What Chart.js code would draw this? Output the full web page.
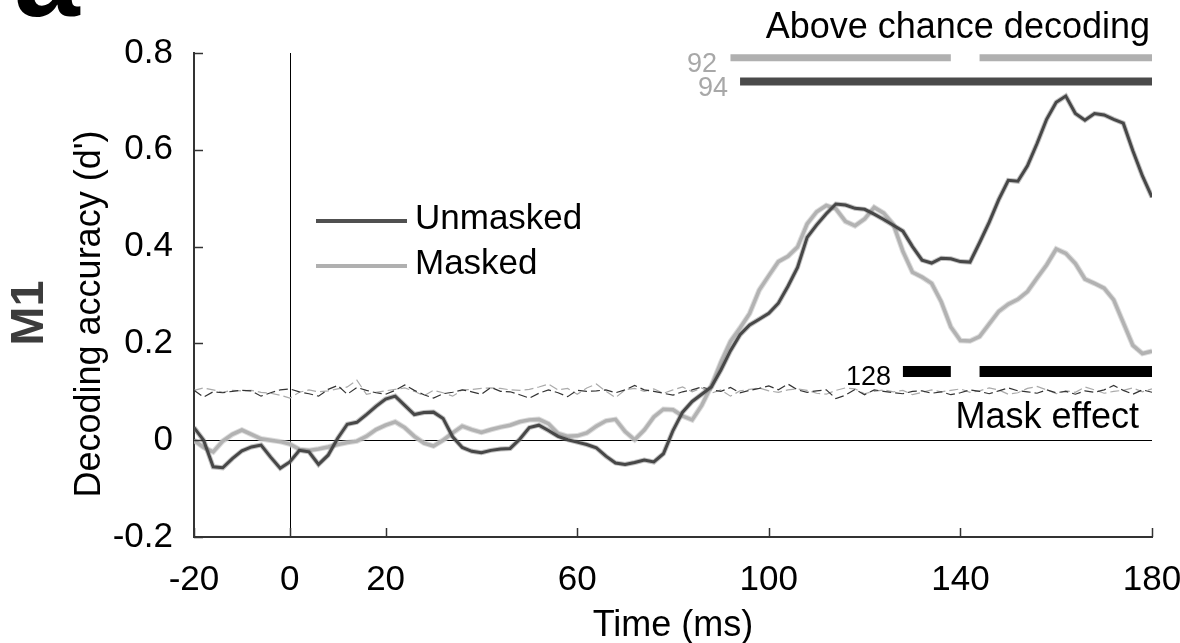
<!DOCTYPE html>
<html><head><meta charset="utf-8">
<script src="https://cdn.jsdelivr.net/npm/chart.js@4.4.1/dist/chart.umd.min.js"></script>
<style>html,body{margin:0;padding:0;background:#fff;overflow:hidden}#wrap{width:1180px;height:643px;position:relative}</style>
</head><body><div id="wrap"><canvas id="c"></canvas></div>
<script>
const times = [-20,-18,-16,-14,-12,-10,-8,-6,-4,-2,0,2,4,6,8,10,12,14,16,18,20,22,24,26,28,30,32,34,36,38,40,42,44,46,48,50,52,54,56,58,60,62,64,66,68,70,72,74,76,78,80,82,84,86,88,90,92,94,96,98,100,102,104,106,108,110,112,114,116,118,120,122,124,126,128,130,132,134,136,138,140,142,144,146,148,150,152,154,156,158,160,162,164,166,168,170,172,174,176,178,180];
const unmasked = [0.026,0.000,-0.055,-0.057,-0.038,-0.022,-0.014,-0.010,-0.035,-0.058,-0.045,-0.021,-0.024,-0.050,-0.031,0.004,0.033,0.037,0.053,0.070,0.085,0.091,0.072,0.053,0.057,0.058,0.045,0.007,-0.015,-0.023,-0.026,-0.021,-0.018,-0.017,0.002,0.026,0.031,0.020,0.008,0.001,-0.004,-0.009,-0.016,-0.033,-0.047,-0.050,-0.046,-0.041,-0.045,-0.028,0.020,0.058,0.080,0.095,0.110,0.145,0.185,0.218,0.238,0.250,0.262,0.283,0.318,0.357,0.419,0.445,0.468,0.488,0.486,0.479,0.477,0.467,0.456,0.444,0.432,0.400,0.372,0.366,0.376,0.375,0.369,0.368,0.408,0.450,0.497,0.537,0.535,0.567,0.613,0.663,0.698,0.711,0.675,0.661,0.675,0.672,0.663,0.655,0.598,0.546,0.502];
const masked = [0.000,-0.015,-0.024,-0.002,0.012,0.021,0.012,0.003,0.000,-0.003,-0.008,-0.019,-0.021,-0.018,-0.014,-0.009,-0.005,-0.002,0.008,0.022,0.031,0.038,0.026,0.008,-0.006,-0.012,0.000,0.015,0.029,0.022,0.016,0.022,0.027,0.031,0.038,0.042,0.043,0.034,0.014,0.008,0.009,0.015,0.029,0.040,0.043,0.018,0.001,0.021,0.048,0.064,0.063,0.050,0.042,0.072,0.112,0.161,0.204,0.232,0.262,0.310,0.340,0.369,0.380,0.399,0.447,0.472,0.485,0.478,0.452,0.443,0.457,0.481,0.469,0.446,0.390,0.347,0.337,0.324,0.286,0.234,0.206,0.205,0.214,0.240,0.266,0.281,0.291,0.307,0.335,0.362,0.395,0.386,0.365,0.333,0.324,0.314,0.290,0.243,0.196,0.179,0.184];
const chanceUnmasked = [0.103,0.089,0.100,0.098,0.101,0.103,0.102,0.091,0.098,0.104,0.106,0.100,0.096,0.091,0.105,0.113,0.095,0.109,0.103,0.098,0.095,0.103,0.114,0.103,0.094,0.087,0.096,0.099,0.104,0.100,0.095,0.109,0.101,0.100,0.094,0.087,0.097,0.104,0.098,0.090,0.103,0.101,0.102,0.104,0.098,0.104,0.113,0.104,0.101,0.097,0.093,0.100,0.104,0.110,0.104,0.101,0.109,0.098,0.103,0.107,0.112,0.104,0.116,0.104,0.099,0.102,0.104,0.086,0.093,0.105,0.094,0.104,0.101,0.098,0.096,0.101,0.102,0.097,0.100,0.094,0.098,0.104,0.101,0.096,0.102,0.108,0.102,0.100,0.097,0.104,0.098,0.101,0.095,0.102,0.099,0.104,0.113,0.103,0.095,0.104,0.099];
const chanceMasked = [0.103,0.108,0.104,0.099,0.103,0.102,0.103,0.099,0.097,0.093,0.087,0.099,0.104,0.100,0.102,0.106,0.110,0.124,0.095,0.099,0.102,0.105,0.108,0.101,0.092,0.103,0.098,0.091,0.104,0.105,0.107,0.108,0.107,0.104,0.103,0.105,0.110,0.116,0.104,0.107,0.095,0.108,0.116,0.101,0.088,0.104,0.107,0.101,0.106,0.097,0.104,0.110,0.100,0.108,0.097,0.104,0.091,0.102,0.105,0.108,0.102,0.099,0.104,0.106,0.103,0.097,0.095,0.103,0.108,0.106,0.096,0.101,0.104,0.100,0.103,0.094,0.099,0.104,0.100,0.103,0.106,0.099,0.102,0.108,0.104,0.095,0.098,0.107,0.111,0.104,0.096,0.102,0.099,0.110,0.104,0.097,0.101,0.103,0.108,0.100,0.106];
const xTickValues = [-20,0,20,60,100,140,180];
const xTickLabels = ['-20','0','20','60','100','140','180'];
const yTickValues = [-0.2,0,0.2,0.4,0.6,0.8];
const yTickLabels = ['-0.2','0','0.2','0.4','0.6','0.8'];
const aboveMaskedSegments = [[92,138],[144,180]];
const aboveMaskedLevel = [0.790];
const aboveUnmaskedSegments = [[94,180]];
const aboveUnmaskedLevel = [0.741];
const maskEffectSegments = [[128,138],[144,180]];
const maskEffectLevel = [0.142];
const onsetLabels = ['92','94','128'];
const seriesNames = ['Unmasked','Masked'];

const FONT = '"Liberation Sans", Arial, Helvetica, sans-serif';
const toPts = (ys) => times.map((t,i)=>({x:t,y:ys[i]}));
function segPts(segs, level){
  const pts=[];
  segs.forEach((s,i)=>{
    if(i>0) pts.push({x:(segs[i-1][1]+s[0])/2,y:null});
    pts.push({x:s[0],y:level},{x:s[1],y:level});
  });
  return pts;
}

const overlay = {
  id:'overlay',
  beforeDatasetsDraw(chart){
    const {ctx, chartArea:a, scales:{x,y}} = chart;
    ctx.save();
    ctx.strokeStyle='#000'; ctx.lineWidth=1;
    const y0=Math.round(y.getPixelForValue(0))+0.5;
    ctx.beginPath(); ctx.moveTo(a.left,y0); ctx.lineTo(a.right,y0); ctx.stroke();
    const x0=Math.round(x.getPixelForValue(0))+0.5;
    ctx.beginPath(); ctx.moveTo(x0,a.top); ctx.lineTo(x0,a.bottom); ctx.stroke();
    ctx.restore();
  },
  afterDraw(chart){
    const {ctx, chartArea:a, scales:{x,y}} = chart;
    ctx.save();
    // inward ticks
    ctx.strokeStyle='#333'; ctx.lineWidth=1.5;
    xTickValues.forEach(v=>{const px=Math.round(x.getPixelForValue(v))+0.5; ctx.beginPath(); ctx.moveTo(px,a.bottom); ctx.lineTo(px,a.bottom-9); ctx.stroke();});
    yTickValues.forEach(v=>{const py=Math.round(y.getPixelForValue(v))+0.5; ctx.beginPath(); ctx.moveTo(a.left,py); ctx.lineTo(a.left+9,py); ctx.stroke();});
    // legend
    ctx.lineWidth=4; ctx.lineCap='butt';
    ctx.strokeStyle='#505050'; ctx.beginPath(); ctx.moveTo(316,221); ctx.lineTo(407,221); ctx.stroke();
    ctx.strokeStyle='#b0b0b0'; ctx.beginPath(); ctx.moveTo(316,266); ctx.lineTo(407,266); ctx.stroke();
    ctx.fillStyle='#000'; ctx.textAlign='left'; ctx.textBaseline='alphabetic';
    ctx.font='35px '+FONT;
    ctx.fillText(seriesNames[0],415,229);
    ctx.fillText(seriesNames[1],415,274);
    // annotations
    ctx.textAlign='right';
    ctx.font='36px '+FONT;
    ctx.fillText('Above chance decoding',1150,38);
    ctx.fillText('Mask effect',1139,428);
    ctx.font='27px '+FONT;
    ctx.fillStyle='#a8a8a8';
    ctx.fillText(onsetLabels[0],717,72);
    ctx.fillText(onsetLabels[1],728,96);
    ctx.fillStyle='#000';
    ctx.fillText(onsetLabels[2],891,385);
    // axis titles
    ctx.textAlign='center';
    ctx.font='36px '+FONT;
    ctx.fillText('Time (ms)',(a.left+a.right)/2,636);
    ctx.save(); ctx.translate(100,314); ctx.rotate(-Math.PI/2);
    ctx.fillText("Decoding accuracy (d')",0,0); ctx.restore();
    // M1
    ctx.save(); ctx.translate(30,313); ctx.rotate(-Math.PI/2);
    ctx.fillStyle='#3c3c3c'; ctx.font='bold 47px '+FONT; ctx.textBaseline='middle';
    ctx.fillText('M1',0,0); ctx.restore();
    // panel letter
    ctx.fillStyle='#000'; ctx.textAlign='left'; ctx.textBaseline='alphabetic';
    ctx.font='bold 118px '+FONT;
    ctx.fillText('a',14,16);
    ctx.restore();
  }
};

new Chart(document.getElementById('c'), {
  type:'line',
  data:{datasets:[
    {label:'Unmasked', data:toPts(unmasked), borderColor:'#474747', borderWidth:3, order:1},
    {label:'Unmasked halo', data:toPts(unmasked), borderColor:'rgba(120,120,120,0.45)', borderWidth:5, order:2},
    {label:'Masked', data:toPts(masked), borderColor:'#b2b2b2', borderWidth:3.5, order:3},
    {label:'Masked halo', data:toPts(masked), borderColor:'rgba(205,205,205,0.7)', borderWidth:5.5, order:4},
    {label:'Chance unmasked', data:toPts(chanceUnmasked), borderColor:'#333', borderWidth:1.2, borderDash:[9,4], order:5},
    {label:'Chance masked', data:toPts(chanceMasked), borderColor:'#aaa', borderWidth:1.2, borderDash:[9,4], order:6},
    {label:'Above masked', data:segPts(aboveMaskedSegments, aboveMaskedLevel[0]), borderColor:'#b0b0b0', borderWidth:7, borderCapStyle:'butt', spanGaps:false, order:7},
    {label:'Above unmasked', data:segPts(aboveUnmaskedSegments, aboveUnmaskedLevel[0]), borderColor:'#4a4a4a', borderWidth:8, borderCapStyle:'butt', spanGaps:false, order:8},
    {label:'Mask effect', data:segPts(maskEffectSegments, maskEffectLevel[0]), borderColor:'#000', borderWidth:11, borderCapStyle:'butt', spanGaps:false, order:9}
  ]},
  options:{
    responsive:true, maintainAspectRatio:false, animation:false, devicePixelRatio:1,
    layout:{padding:{top:53,right:28,left:0,bottom:0}},
    plugins:{legend:{display:false}, tooltip:{enabled:false}},
    elements:{point:{radius:0, hoverRadius:0}, line:{tension:0, fill:false}},
    scales:{
      x:{type:'linear', min:-20, max:180,
        afterBuildTicks(s){s.ticks = xTickValues.map(v=>({value:v}));},
        afterFit(s){s.height=106; s.paddingLeft=0; s.paddingRight=0;},
        grid:{display:false, drawTicks:false},
        border:{display:true, color:'#333', width:2},
        ticks:{padding:22, color:'#000', font:{family:FONT, size:35}, maxRotation:0, autoSkip:false,
          callback:(v,i)=>xTickLabels[i]}
      },
      y:{type:'linear', min:-0.2, max:0.8,
        afterBuildTicks(s){s.ticks = yTickValues.map(v=>({value:v}));},
        afterFit(s){s.width=194; s.paddingTop=0; s.paddingBottom=0;},
        grid:{display:false, drawTicks:false},
        border:{display:true, color:'#333', width:2},
        ticks:{padding:21, color:'#000', font:{family:FONT, size:35}, autoSkip:false,
          callback:(v,i)=>yTickLabels[i]}
      }
    }
  },
  plugins:[overlay]
});
</script></body></html>
